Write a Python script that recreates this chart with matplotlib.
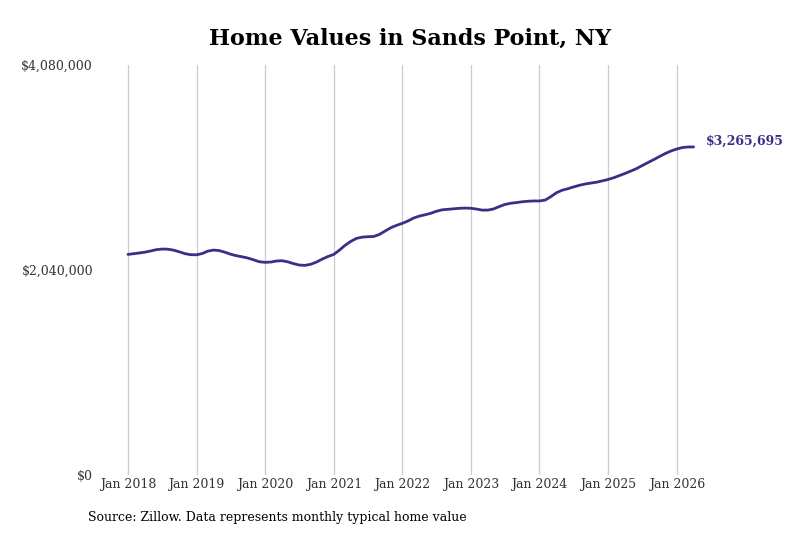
import pandas as pd
import matplotlib
matplotlib.use('Agg')
import matplotlib.pyplot as plt
import matplotlib.dates as mdates
from matplotlib.ticker import FuncFormatter

# monthly typical home value, Jan 2018 .. Apr 2026
values_2018 = [2196000, 2203000, 2210000, 2218000, 2230000, 2243000, 2249000, 2248000, 2238000, 2222000, 2203000, 2193000]
values_2019 = [2192000, 2205000, 2228000, 2239000, 2234000, 2218000, 2198000, 2183000, 2172000, 2160000, 2142000, 2123000]
values_2020 = [2117000, 2120000, 2130000, 2133000, 2122000, 2104000, 2090000, 2087000, 2098000, 2120000, 2150000, 2175000]
values_2021 = [2196000, 2240000, 2285000, 2325000, 2355000, 2368000, 2372000, 2374000, 2395000, 2428000, 2462000, 2485000]
values_2022 = [2505000, 2530000, 2557000, 2577000, 2590000, 2605000, 2625000, 2640000, 2645000, 2650000, 2655000, 2657000]
values_2023 = [2655000, 2647000, 2637000, 2637000, 2648000, 2672000, 2693000, 2705000, 2712000, 2720000, 2725000, 2728000]
values_2024 = [2728000, 2737000, 2770000, 2810000, 2835000, 2850000, 2868000, 2884000, 2897000, 2906000, 2915000, 2928000]
values_2025 = [2942000, 2960000, 2980000, 3002000, 3025000, 3050000, 3080000, 3110000, 3140000, 3170000, 3200000, 3225000]
values_2026 = [3245000, 3260000, 3265000, 3265695]

values = (values_2018 + values_2019 + values_2020 + values_2021 + values_2022
          + values_2023 + values_2024 + values_2025 + values_2026)
dates = pd.date_range('2018-01-01', periods=len(values), freq='MS')

y_ticks = [0, 2040000, 4080000]
x_tick_years = list(range(2018, 2027))

line_color = '#3a2f86'
text_color = '#333333'

plt.rcParams['font.family'] = ['DejaVu Serif']

fig = plt.figure(figsize=(8, 5.33), dpi=100)
ax = fig.add_axes([0.125, 0.1088, 0.75, 0.769])

ax.plot(dates, values, color=line_color, linewidth=2.0, solid_capstyle='round')

ax.set_ylim(0, 4080000)
ax.set_yticks(y_ticks)
ax.yaxis.set_major_formatter(FuncFormatter(lambda v, p: '${:,.0f}'.format(v)))

ax.set_xlim(pd.Timestamp('2017-08-05'), pd.Timestamp('2026-05-05'))
ax.set_xticks([pd.Timestamp(f'{y}-01-01') for y in x_tick_years])
ax.xaxis.set_major_formatter(mdates.DateFormatter('Jan %Y'))

ax.grid(axis='x', color='#cccccc', linewidth=0.9)
ax.grid(axis='y', visible=False)
ax.set_axisbelow(True)
for loc, spine in ax.spines.items():
    spine.set_visible(False)
ax.tick_params(axis='both', length=0, labelsize=9, labelcolor=text_color)
ax.tick_params(axis='x', pad=2.5)
ax.tick_params(axis='y', pad=5)

ax.annotate('${:,.0f}'.format(values[-1]), xy=(dates[-1], values[-1]),
            xytext=(9, 4), textcoords='offset points', ha='left', va='center',
            fontsize=9, fontweight='bold', color=line_color)

fig.text(0.5125, 0.928, 'Home Values in Sands Point, NY', ha='center', va='center',
         fontsize=16, fontweight='bold', color='black')
fig.text(0.11, 0.03, 'Source: Zillow. Data represents monthly typical home value',
         ha='left', va='center', fontsize=9, color='black')

fig.savefig('out.png', dpi=100)
